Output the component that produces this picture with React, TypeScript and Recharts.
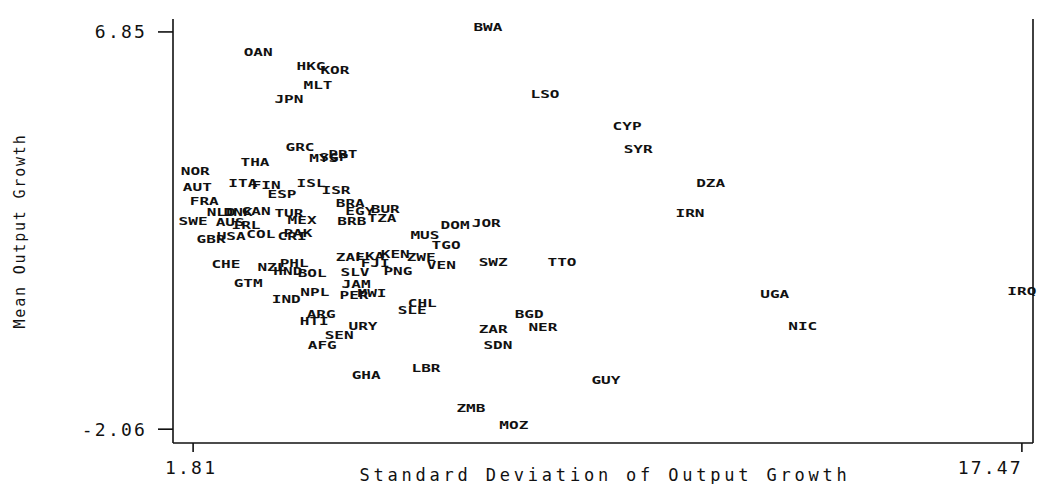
import { ScatterChart, Scatter, XAxis, YAxis, Label } from 'recharts';

// country codes, standard deviation of output growth, mean output growth
const countries = [
  'BWA', 'OAN', 'HKG', 'KOR', 'MLT', 'JPN', 'LSO', 'CYP', 'SYR', 'GRC',
  'MYS', 'SGP', 'PRT', 'THA', 'NOR', 'AUT', 'ITA', 'FIN', 'ESP', 'ISL',
  'ISR', 'DZA', 'FRA', 'NLD', 'DNK', 'CAN', 'TUR', 'MEX', 'SWE', 'AUS',
  'IRL', 'GBR', 'USA', 'COL', 'PAK', 'CRI', 'BRA', 'EGY', 'BUR', 'BRB',
  'TZA', 'DOM', 'JOR', 'IRN', 'MUS', 'TGO', 'ZAF', 'LKA', 'KEN', 'ZWE',
  'FJI', 'VEN', 'SWZ', 'TTO', 'SLV', 'PNG', 'CHE', 'NZL', 'PHL', 'HND',
  'BOL', 'GTM', 'JAM', 'IND', 'NPL', 'PER', 'MWI', 'CHL', 'SLE', 'UGA',
  'IRQ', 'BGD', 'NER', 'ARG', 'HTI', 'URY', 'ZAR', 'SEN', 'AFG', 'SDN',
  'NIC', 'GHA', 'LBR', 'GUY', 'ZMB', 'MOZ',
];

const sdGrowth = [
  7.38, 3.04, 4.04, 4.49, 4.17, 3.62, 8.46, 10.01, 10.22, 3.83,
  4.28, 4.47, 4.64, 2.98, 1.85, 1.89, 2.75, 3.19, 3.49, 4.04,
  4.51, 11.59, 2.02, 2.34, 2.66, 3.0, 3.62, 3.87, 1.81, 2.51,
  2.81, 2.15, 2.53, 3.09, 3.79, 3.68, 4.78, 4.96, 5.44, 4.81,
  5.38, 6.76, 7.35, 11.2, 6.19, 6.59, 4.78, 5.15, 5.63, 6.12,
  5.25, 6.5, 7.48, 8.78, 4.87, 5.68, 2.43, 3.3, 3.72, 3.6,
  4.06, 2.85, 4.89, 3.57, 4.11, 4.85, 5.19, 6.14, 5.95, 12.8,
  17.47, 8.16, 8.42, 4.23, 4.1, 5.02, 7.48, 4.57, 4.25, 7.57,
  13.33, 5.08, 6.21, 9.61, 7.06, 7.87,
];

const meanGrowth = [
  6.85, 6.3, 5.98, 5.89, 5.56, 5.24, 5.36, 4.64, 4.12, 4.17,
  3.92, 3.94, 4.01, 3.83, 3.63, 3.27, 3.36, 3.31, 3.11, 3.36,
  3.2, 3.36, 2.95, 2.71, 2.71, 2.73, 2.69, 2.53, 2.51, 2.48,
  2.42, 2.1, 2.17, 2.21, 2.24, 2.17, 2.91, 2.73, 2.78, 2.51,
  2.57, 2.42, 2.46, 2.69, 2.19, 1.97, 1.7, 1.72, 1.77, 1.7,
  1.56, 1.52, 1.59, 1.59, 1.36, 1.38, 1.54, 1.47, 1.56, 1.38,
  1.34, 1.11, 1.09, 0.76, 0.91, 0.85, 0.89, 0.67, 0.51, 0.87,
  0.94, 0.42, 0.13, 0.42, 0.26, 0.15, 0.08, -0.05, -0.28, -0.28,
  0.15, -0.95, -0.79, -1.06, -1.69, -2.06,
];

const xTicks = [1.81, 17.47];
const yTicks = [-2.06, 6.85];

const data = countries.map((code, i) => ({ code, sd: sdGrowth[i], mean: meanGrowth[i] }));

const ink = '#111';
const mono = '"DejaVu Sans Mono", monospace';

// country code drawn as the marker itself, stretched wide like the printed original
const CodeLabel = (props: any) => {
  const { cx, cy, payload } = props;
  return (
    <text
      x={cx}
      y={cy - 4}
      textAnchor="middle"
      dominantBaseline="central"
      fontFamily={mono}
      fontWeight="bold"
      fontSize={11}
      textLength={29}
      lengthAdjust="spacingAndGlyphs"
      fill={ink}
    >
      {payload.code}
    </text>
  );
};

const XTick = (props: any) => {
  const { x, y, payload, index } = props;
  const last = index === xTicks.length - 1;
  return (
    <text
      x={last ? x + 1 : x - 2}
      y={y + 20}
      textAnchor={last ? 'end' : 'middle'}
      fontFamily={mono}
      fontSize={18}
      letterSpacing={2.2}
      fill={ink}
    >
      {payload.value.toFixed(2)}
    </text>
  );
};

const YTick = (props: any) => {
  const { x, y, payload } = props;
  return (
    <text
      x={x}
      y={y}
      textAnchor="end"
      dominantBaseline="central"
      fontFamily={mono}
      fontSize={18}
      letterSpacing={2.2}
      fill={ink}
    >
      {payload.value.toFixed(2)}
    </text>
  );
};

export default function App() {
  return (
    <div style={{ position: 'absolute', left: 0, top: 0, width: 1046, height: 484, background: '#fff' }}>
      <ScatterChart width={1046} height={484} margin={{ top: 19, right: 0, bottom: 0, left: 0 }}>
        <XAxis
          type="number"
          dataKey="sd"
          domain={[1.43, 17.68]}
          ticks={xTicks}
          height={41}
          tickSize={9}
          tickMargin={2}
          tick={<XTick />}
          axisLine={{ stroke: ink, strokeWidth: 1.6 }}
          tickLine={{ stroke: ink, strokeWidth: 1.6 }}
        >
          <Label
            content={({ viewBox }: any) => (
              <text
                x={viewBox.x + viewBox.width / 2 + 2}
                y={viewBox.y + 38}
                textAnchor="middle"
                fontFamily={mono}
                fontSize={17}
                letterSpacing={3.8}
                fill={ink}
              >
                Standard Deviation of Output Growth
              </text>
            )}
          />
        </XAxis>
        <XAxis
          xAxisId="top"
          orientation="top"
          type="number"
          dataKey="sd"
          domain={[1.43, 17.68]}
          ticks={xTicks}
          height={0}
          tickSize={8}
          tick={false}
          axisLine={{ stroke: ink, strokeWidth: 1.6 }}
          tickLine={{ stroke: ink, strokeWidth: 1.6 }}
        />
        <YAxis
          type="number"
          dataKey="mean"
          domain={[-2.37, 7.14]}
          ticks={yTicks}
          width={173}
          tickSize={15}
          tickMargin={11}
          tick={<YTick />}
          axisLine={{ stroke: ink, strokeWidth: 1.6 }}
          tickLine={{ stroke: ink, strokeWidth: 1.6 }}
        >
          <Label
            content={({ viewBox }: any) => {
              const cx = 20;
              const cy = viewBox.y + viewBox.height / 2;
              return (
                <text
                  x={cx}
                  y={cy}
                  transform={`rotate(-90 ${cx} ${cy})`}
                  textAnchor="middle"
                  dominantBaseline="central"
                  fontFamily={mono}
                  fontSize={15}
                  letterSpacing={1.8}
                  fill={ink}
                >
                  Mean Output Growth
                </text>
              );
            }}
          />
        </YAxis>
        <YAxis
          yAxisId="right"
          orientation="right"
          type="number"
          dataKey="mean"
          domain={[-2.37, 7.14]}
          width={13}
          tick={false}
          tickLine={false}
          axisLine={{ stroke: ink, strokeWidth: 1.6 }}
        />
        <Scatter data={data} shape={<CodeLabel />} isAnimationActive={false} />
      </ScatterChart>
    </div>
  );
}
